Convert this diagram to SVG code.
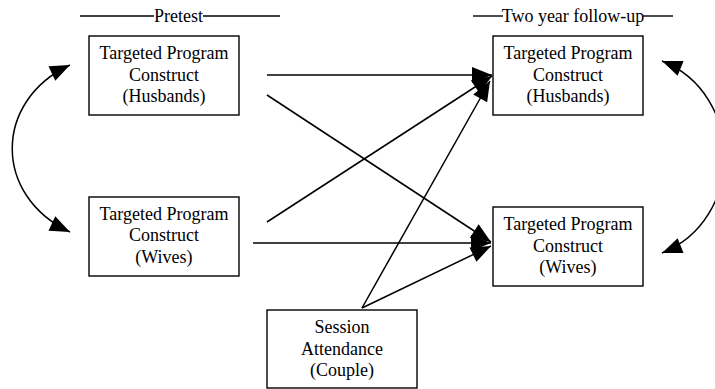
<svg xmlns="http://www.w3.org/2000/svg" width="715" height="389" viewBox="0 0 715 389">
<defs>
<style>
.box{fill:#fff;stroke:#000;stroke-width:1.4}
.t{font-family:"Liberation Serif","Times New Roman",serif;font-size:18px;fill:#000;text-anchor:middle}
.c{fill:none;stroke:#000;stroke-width:1.5}
.h{stroke:#000;stroke-width:1.4}
</style>
<marker id="ah" markerUnits="userSpaceOnUse" markerWidth="22" markerHeight="16" viewBox="0 0 20 16" refX="20" refY="8" orient="auto-start-reverse">
<path d="M0,0 L20,8 L0,16 z" fill="#000"/>
</marker>
</defs>
<rect width="715" height="389" fill="#fff"/>
<g id="headers">
<line class="h" x1="80" y1="16" x2="154" y2="16"/>
<line class="h" x1="203" y1="16" x2="280" y2="16"/>
<text class="t" x="178.5" y="21.5">Pretest</text>
<line class="h" x1="473" y1="16" x2="503" y2="16"/>
<line class="h" x1="643" y1="16" x2="673" y2="16"/>
<text class="t" x="573" y="21.5">Two year follow-up</text>
</g>
<g id="connectors">
<line class="c" x1="267" y1="75" x2="492" y2="75" marker-end="url(#ah)"/>
<line class="c" x1="267" y1="95" x2="491" y2="242" marker-end="url(#ah)"/>
<line class="c" x1="267" y1="222" x2="492" y2="76" marker-end="url(#ah)"/>
<line class="c" x1="253" y1="243" x2="491" y2="243" marker-end="url(#ah)"/>
<line class="c" x1="362" y1="308" x2="490" y2="81" marker-end="url(#ah)"/>
<line class="c" x1="362" y1="308" x2="491" y2="246" marker-end="url(#ah)"/>
<path class="c" d="M70,65 C-7,101 -7,196 70,232" marker-start="url(#ah)" marker-end="url(#ah)"/>
<path class="c" d="M662,61 C745,94 745,220 662,253" marker-start="url(#ah)" marker-end="url(#ah)"/>
</g>
<g id="h1">
<rect class="box" x="89" y="36" width="150" height="79"/>
<text class="t" x="164" y="59">Targeted Program</text>
<text class="t" x="164" y="80.5">Construct</text>
<text class="t" x="164" y="102">(Husbands)</text>
</g>
<g id="w1">
<rect class="box" x="89" y="197" width="150" height="79"/>
<text class="t" x="164" y="219.5">Targeted Program</text>
<text class="t" x="164" y="241">Construct</text>
<text class="t" x="164" y="262.5">(Wives)</text>
</g>
<g id="h2">
<rect class="box" x="493" y="36" width="150" height="79"/>
<text class="t" x="568" y="59">Targeted Program</text>
<text class="t" x="568" y="80.5">Construct</text>
<text class="t" x="568" y="102">(Husbands)</text>
</g>
<g id="w2">
<rect class="box" x="493" y="207" width="150" height="79"/>
<text class="t" x="568" y="230">Targeted Program</text>
<text class="t" x="568" y="251.5">Construct</text>
<text class="t" x="568" y="273">(Wives)</text>
</g>
<g id="session">
<rect class="box" x="267" y="310" width="150" height="78"/>
<text class="t" x="342" y="333">Session</text>
<text class="t" x="342" y="354.5">Attendance</text>
<text class="t" x="342" y="376">(Couple)</text>
</g>
</svg>
